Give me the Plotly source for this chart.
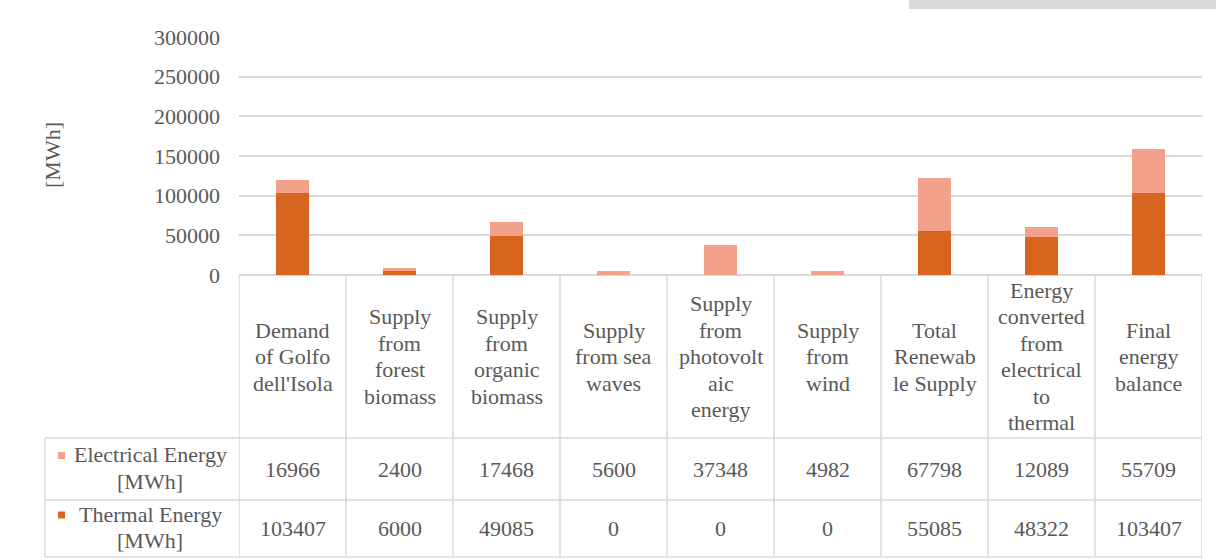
import plotly.graph_objects as go

categories = [
    "Demand<br>of Golfo<br>dell'Isola",
    "Supply<br>from<br>forest<br>biomass",
    "Supply<br>from<br>organic<br>biomass",
    "Supply<br>from sea<br>waves",
    "Supply<br>from<br>photovolt<br>aic<br>energy",
    "Supply<br>from<br>wind",
    "Total<br>Renewab<br>le Supply",
    "Energy<br>converted<br>from<br>electrical<br>to<br>thermal",
    "Final<br>energy<br>balance",
]
electrical = [16966, 2400, 17468, 5600, 37348, 4982, 67798, 12089, 55709]
thermal = [103407, 6000, 49085, 0, 0, 0, 55085, 48322, 103407]
series_names = ["Electrical Energy<br>[MWh]", "Thermal Energy<br>[MWh]"]
y_ticks = [0, 50000, 100000, 150000, 200000, 250000, 300000]

col_thermal = "#D8651F"
col_elec = "#F2A28A"
text_col = "#595959"
grid_col = "#D9D9D9"
font_name = "Liberation Serif"

W, H = 1216, 560
L, R, T, B = 239, 14, 37, 285
pw, ph = W - L - R, H - T - B


def px_x(p):
    return (p - L) / pw


def px_y(p):
    return (H - B - p) / ph


xs = list(range(len(categories)))

fig = go.Figure()
fig.add_trace(go.Bar(x=xs, y=thermal, name="Thermal", marker=dict(color=col_thermal, line=dict(width=0))))
fig.add_trace(go.Bar(x=xs, y=electrical, name="Electrical", marker=dict(color=col_elec, line=dict(width=0))))

shapes = []
annotations = []

# table rows (pixel positions)
header_bottom = 438
row1_bottom = 500
row2_bottom = 557
legend_left = 45
line_h = 26.5

line = dict(color=grid_col, width=1.5)
# horizontal lines
for yy in [header_bottom, row1_bottom, row2_bottom]:
    shapes.append(dict(type="line", xref="paper", yref="paper", x0=px_x(legend_left), x1=1.0,
                       y0=px_y(yy), y1=px_y(yy), line=line))
# vertical lines
for i in range(len(categories) + 1):
    shapes.append(dict(type="line", xref="x", yref="paper", x0=i - 0.5, x1=i - 0.5,
                       y0=0, y1=px_y(row2_bottom), line=line))
shapes.append(dict(type="line", xref="paper", yref="paper", x0=px_x(legend_left), x1=px_x(legend_left),
                   y0=px_y(header_bottom), y1=px_y(row2_bottom), line=line))

# gray strip at top right
shapes.append(dict(type="rect", xref="paper", yref="paper", x0=px_x(909), x1=px_x(W + 5),
                   y0=px_y(9), y1=px_y(-5), fillcolor="#D9D9D9", line=dict(width=0)))

fnt = dict(family=font_name, size=22, color=text_col)


def add_lines(text, xc, cy, xref):
    parts = text.split("<br>")
    n = len(parts)
    for k, part in enumerate(parts):
        yy = cy + (k - (n - 1) / 2) * line_h
        annotations.append(dict(x=xc, y=px_y(yy), xref=xref, yref="paper", text=part,
                                showarrow=False, font=fnt, xanchor="center", yanchor="middle"))


for i, cat in enumerate(categories):
    add_lines(cat, i, (275 + header_bottom) / 2, "x")
    annotations.append(dict(x=i, y=px_y((header_bottom + row1_bottom) / 2), xref="x", yref="paper",
                            text=str(electrical[i]), showarrow=False, font=fnt,
                            xanchor="center", yanchor="middle"))
    annotations.append(dict(x=i, y=px_y((row1_bottom + row2_bottom) / 2), xref="x", yref="paper",
                            text=str(thermal[i]), showarrow=False, font=fnt,
                            xanchor="center", yanchor="middle"))

# legend cells
for name, color, top, bot in [(series_names[0], col_elec, header_bottom, row1_bottom),
                              (series_names[1], col_thermal, row1_bottom, row2_bottom)]:
    cy = (top + bot) / 2
    add_lines(name, px_x(150), cy - 1, "paper")
    shapes.append(dict(type="rect", xref="paper", yref="paper", x0=px_x(58), x1=px_x(65),
                       y0=px_y(cy - 10), y1=px_y(cy - 17), fillcolor=color, line=dict(width=0)))

# y axis title
annotations.append(dict(x=px_x(52), y=px_y(155), xref="paper", yref="paper", text="[MWh]",
                        textangle=-90, showarrow=False, font=fnt,
                        xanchor="center", yanchor="middle"))

fig.update_layout(
    width=W, height=H,
    margin=dict(l=L, r=R, t=T, b=B),
    barmode="stack",
    bargap=0.69,
    showlegend=False,
    paper_bgcolor="white",
    plot_bgcolor="white",
    shapes=shapes,
    annotations=annotations,
    font=fnt,
    xaxis=dict(range=[-0.5, len(categories) - 0.5], showticklabels=False, showgrid=False,
               zeroline=False, showline=False, ticks=""),
    yaxis=dict(range=[0, 300000], tickvals=y_ticks, ticktext=[str(v) for v in y_ticks],
               showgrid=True, gridcolor=grid_col, gridwidth=1.5, zeroline=True,
               zerolinecolor=grid_col, zerolinewidth=1.5, showline=False,
               tickfont=fnt, ticklabelstandoff=18),
)

fig.write_html("out.html", config={"displayModeBar": False},
               post_script="document.body.style.margin='0';")
